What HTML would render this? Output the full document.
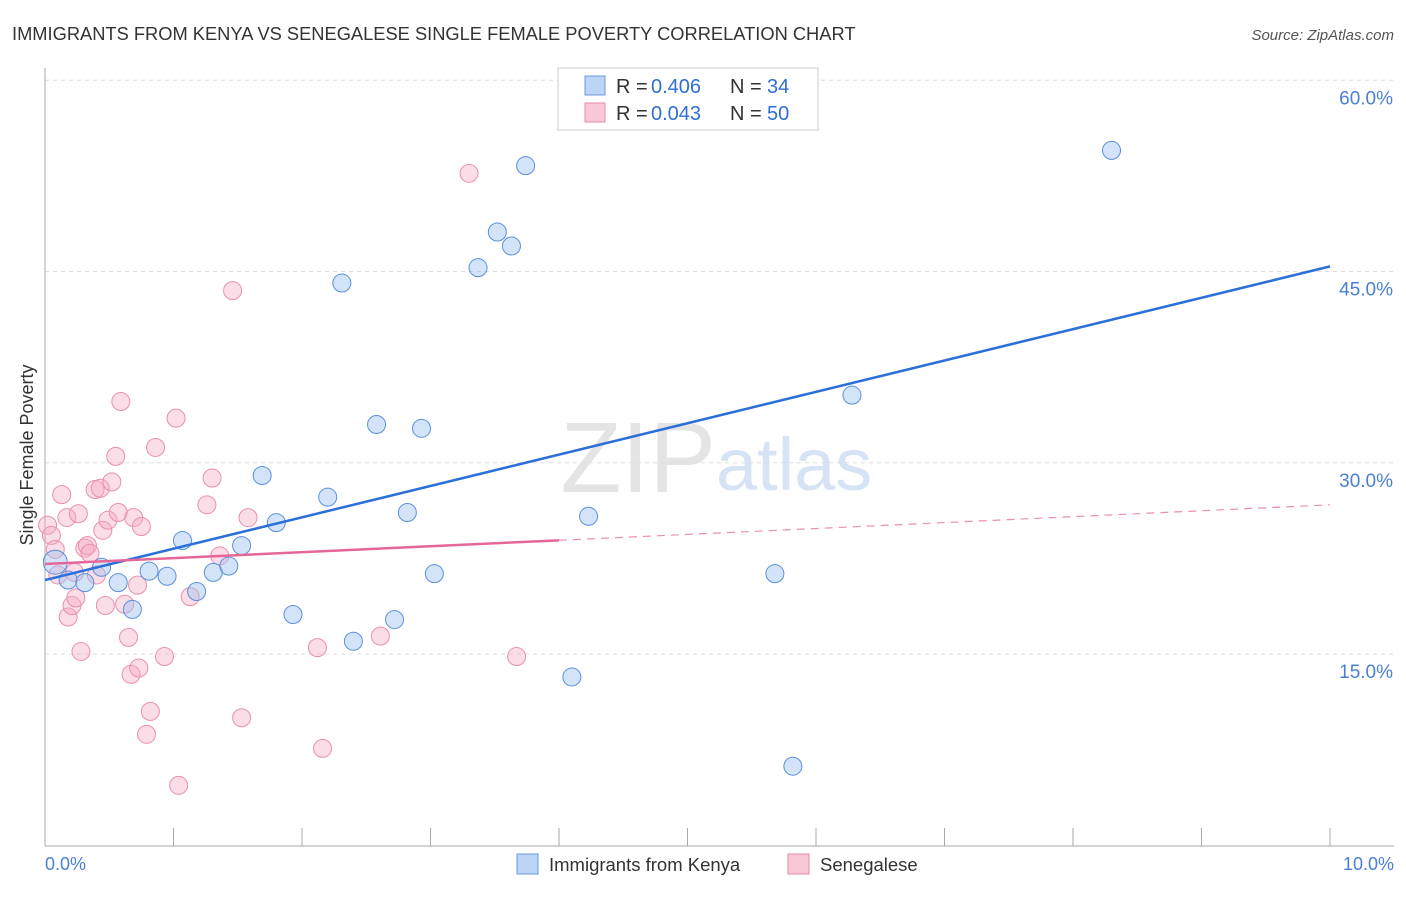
<!DOCTYPE html>
<html><head><meta charset="utf-8"><style>
body{margin:0;background:#fff;font-family:"Liberation Sans",sans-serif;}
svg text{font-family:"Liberation Sans",sans-serif;}
</style></head><body>
<svg id="chart" width="1406" height="892">
<text x="12" y="40" font-size="18.3" fill="#333">IMMIGRANTS FROM KENYA VS SENEGALESE SINGLE FEMALE POVERTY CORRELATION CHART</text>
<text x="1394" y="40" font-size="15" fill="#555" font-style="italic" text-anchor="end">Source: ZipAtlas.com</text>
<text x="716" y="492" font-size="100" fill="#e4e4e4" font-family="Liberation Serif" text-anchor="end">ZIP</text>
<text x="716" y="490" font-size="74" fill="#d6e3f5">atlas</text>
<g id="grid"></g>
<line x1="45" y1="68" x2="45" y2="846" stroke="#aaa"/>
<line x1="45" y1="846" x2="1394" y2="846" stroke="#aaa"/>
<text x="33" y="455" font-size="18" fill="#333" text-anchor="middle" transform="rotate(-90 33 455)">Single Female Poverty</text>
<text x="45" y="870" font-size="18" fill="#4a7fd6">0.0%</text>
<text x="1394" y="870" font-size="18" fill="#4a7fd6" text-anchor="end">10.0%</text>
<g id="pts"></g>
<g id="lines"></g>
<g>
<rect x="558" y="68" width="260" height="62" fill="#fff" stroke="#ccc"/>
<rect x="585" y="76" width="20" height="19" fill="#bcd4f6" stroke="#6b9ae0"/>
<rect x="585" y="103" width="20" height="19" fill="#f9c8d6" stroke="#e88aa8"/>
<text y="93" font-size="20" fill="#333"><tspan x="616">R =</tspan><tspan x="651" fill="#2f6fd6">0.406</tspan><tspan x="730">N =</tspan><tspan x="767" fill="#2f6fd6">34</tspan></text>
<text y="120" font-size="20" fill="#333"><tspan x="616">R =</tspan><tspan x="651" fill="#2f6fd6">0.043</tspan><tspan x="730">N =</tspan><tspan x="767" fill="#2f6fd6">50</tspan></text>
</g>
<g>
<rect x="517" y="854" width="21" height="20" fill="#bcd4f6" stroke="#6b9ae0"/>
<text x="549" y="871" font-size="18.5" fill="#333">Immigrants from Kenya</text>
<rect x="788" y="854" width="21" height="20" fill="#f9c8d6" stroke="#e88aa8"/>
<text x="820" y="871" font-size="18.5" fill="#333">Senegalese</text>
</g>
</svg>
<script>
const yTicks=[15,30,45,60];
const xTicks=[0,1,2,3,4,5,6,7,8,9,10];
const kenyaX=[0.08,0.18,0.31,0.44,0.57,0.68,0.81,0.95,1.07,1.18,1.31,1.43,1.53,1.69,1.80,1.93,2.20,2.31,2.40,2.58,2.72,2.82,2.93,3.03,3.37,3.52,3.63,3.74,4.10,4.23,5.68,5.82,6.28,8.30];
const kenyaY=[22.2,20.8,20.6,21.8,20.6,18.5,21.5,21.1,23.9,19.9,21.4,21.9,23.5,29.0,25.3,18.1,27.3,44.1,16.0,33.0,17.7,26.1,32.7,21.3,45.3,48.1,47.0,53.3,13.2,25.8,21.3,6.2,35.3,54.5];
const senX=[0.02,0.05,0.08,0.10,0.13,0.17,0.18,0.21,0.24,0.26,0.28,0.31,0.33,0.35,0.39,0.40,0.43,0.45,0.47,0.49,0.52,0.55,0.57,0.59,0.62,0.65,0.67,0.69,0.73,0.72,0.75,0.79,0.82,0.86,0.93,1.02,1.04,1.13,1.26,1.30,1.36,1.46,1.53,1.58,2.12,2.16,2.61,3.30,3.67,0.23];
const senY=[25.1,24.3,23.2,21.2,27.5,25.7,17.9,18.8,19.4,26.0,15.2,23.3,23.5,22.9,27.9,21.2,28.0,24.7,18.8,25.5,28.5,30.5,26.1,34.8,18.9,16.3,13.4,25.7,13.9,20.4,25.0,8.7,10.5,31.2,14.8,33.5,4.7,19.5,26.7,28.8,22.7,43.5,10.0,25.7,15.5,7.6,16.4,52.7,14.8,21.4];
const kenyaTrend=[20.8,45.4];
const senTrend=[22.06,26.7];
const senSolidEnd=4.0;
const X=v=>45+v*128.5, Y=v=>654-(v-15)*12.75;
const NS="http://www.w3.org/2000/svg";
function mk(t,a,p){const e=document.createElementNS(NS,t);for(const k in a)e.setAttribute(k,a[k]);p.appendChild(e);return e;}
const grid=document.getElementById('grid');
yTicks.forEach(t=>{
 const l=mk('line',{x1:45,x2:1394,y1:Y(t),y2:Y(t),stroke:'#ddd','stroke-dasharray':'4,4'},grid);
 
 
 const tx=mk('text',{x:1393,y:Y(t)+24,'font-size':19,fill:'#4a7fd6','text-anchor':'end'},grid);
 tx.textContent=t.toFixed(1)+'%';
 
 
});
xTicks.forEach(t=>{
 const l=mk('line',{x1:X(t),x2:X(t),y1:828,y2:846,stroke:'#aaa'},grid);
 
 
});
const pts=document.getElementById('pts');
senX.forEach((x,i)=>{
 const c=mk('circle',{cx:X(x),cy:Y(senY[i]),r:9,fill:'rgba(244,170,195,0.4)',stroke:'#e98fae','stroke-width':1},pts);
 
 
});
kenyaX.forEach((x,i)=>{
 const c=mk('circle',{cx:X(x),cy:Y(kenyaY[i]),r:i==0?12:9,fill:'rgba(160,195,240,0.45)',stroke:'#5b8fdc','stroke-width':1},pts);
 
 
});
const lines=document.getElementById('lines');
const sy=x=>senTrend[0]+(senTrend[1]-senTrend[0])*x/10;
let l1=mk('line',{x1:X(0),y1:Y(kenyaTrend[0]),x2:X(10),y2:Y(kenyaTrend[1]),stroke:'#2b6fd8','stroke-width':2.5},lines);


let l2=mk('line',{x1:X(0),y1:Y(sy(0)),x2:X(senSolidEnd),y2:Y(sy(senSolidEnd)),stroke:'#e5679a','stroke-width':2.5},lines);


let l3=mk('line',{x1:X(senSolidEnd),y1:Y(sy(senSolidEnd)),x2:X(10),y2:Y(sy(10)),stroke:'#e98fae','stroke-width':1.2,'stroke-dasharray':'8,6'},lines);


</script>
</body></html>
